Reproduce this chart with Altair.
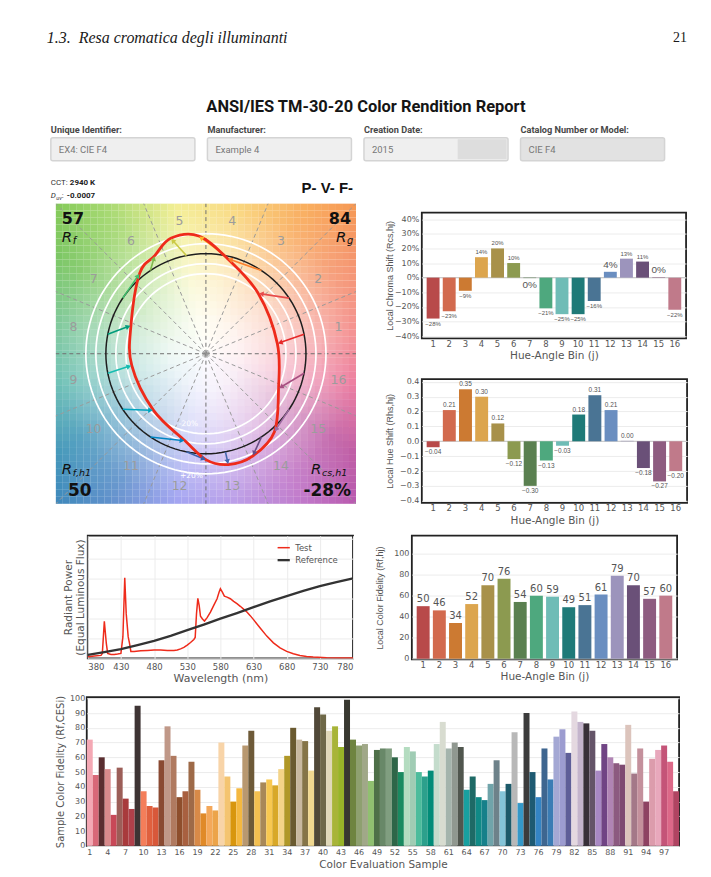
import altair as alt
import numpy as np
import pandas as pd

# ---------------------------------------------------------------- data
header_fields = ["Unique Identifier:", "Manufacturer:", "Creation Date:", "Catalog Number or Model:"]
header_values = ["EX4: CIE F4", "Example 4", "2015", "CIE F4"]

bins = list(range(1, 17))
chroma_shift = [-0.28, -0.23, -0.09, 0.14, 0.20, 0.10, -0.003, -0.21,
                -0.25, -0.25, -0.16, 0.04, 0.13, 0.11, 0.003, -0.22]
hue_shift = [-0.04, 0.21, 0.35, 0.30, 0.12, -0.12, -0.30, -0.13,
             -0.03, 0.18, 0.31, 0.21, 0.003, -0.18, -0.27, -0.20]
local_fidelity = [50, 46, 34, 52, 70, 76, 54, 60, 59, 49, 51, 61, 79, 70, 57, 60]

bin_bar_colors = ["#b84a4a", "#d26a4e", "#cc7a32", "#dca54e", "#a8914a", "#8c9a50",
                  "#5a8050", "#4ea87e", "#6fbcb6", "#1f7a78", "#4a7494", "#6a8ec0",
                  "#9c94bc", "#6a5078", "#8e5c80", "#c07a8a"]
bin_arrow_colors = ["#e62828", "#e74b4b", "#fb812e", "#ffb529", "#cbca46", "#7eb94c",
                    "#41c06d", "#009c7c", "#16bcb0", "#00a4bf", "#0085c3", "#3b62aa",
                    "#4568ae", "#6a4e85", "#9d69a1", "#a74f81"]
bg_hue_colors = ["#f27a74", "#f4895a", "#f8a44a", "#f8cf60", "#f0ea78", "#9cd45e",
                 "#6cc050", "#62bc84", "#4cb2a4", "#2f8cb2", "#4a82c4", "#8c8eee",
                 "#aa86e2", "#b866c2", "#b84a9a", "#e8608a"]

Rf, Rg, Rf_h1, Rcs_h1 = "57", "84", "50", "-28%"
cct_text, duv_text, pvf_text = "2940 K", "-0.0007", "P- V- F-"

spec_test_wl = [380, 390, 400, 402, 405, 408, 410, 415, 420, 425,
                430, 433, 435.8, 438, 441, 443, 445, 450, 460, 470,
                480, 490, 500, 510, 515, 520, 525, 530, 535, 540,
                542, 544, 546, 548, 550, 553, 556, 560, 565, 570,
                575, 578, 580, 583, 586, 590, 595, 600, 605, 610,
                615, 620, 625, 630, 640, 650, 660, 670, 680, 690,
                700, 710, 720, 740, 760, 780]
spec_test_pw = [0.08, 0.12, 0.15, 0.25, 1.87, 0.75, 0.25, 0.20, 0.20, 0.22,
                0.25, 1.08, 4.05, 2.25, 1.08, 0.75, 0.35, 0.35, 0.38, 0.40,
                0.42, 0.42, 0.40, 0.40, 0.42, 0.48, 0.55, 0.67, 0.80, 0.95,
                1.05, 2.25, 3.02, 2.67, 2.12, 1.98, 1.88, 2.05, 2.33, 2.67,
                3.00, 3.33, 3.50, 3.33, 3.13, 3.08, 3.00, 2.87, 2.75, 2.62,
                2.48, 2.33, 2.15, 1.95, 1.53, 1.12, 0.78, 0.53, 0.35, 0.23,
                0.15, 0.10, 0.07, 0.03, 0.02, 0.02]
spec_ref_wl = [380, 405, 430, 455, 480, 505, 530, 555, 580, 605, 630, 655, 680, 705, 730, 755, 780]
spec_ref_pw = [0.18, 0.32, 0.47, 0.67, 0.88, 1.13, 1.42, 1.70, 2.00, 2.28, 2.58, 2.87,
               3.13, 3.40, 3.63, 3.83, 4.03]

samples = list(range(1, 100))
sample_fidelity = [72, 48, 60, 52, 21, 53, 32, 25, 95, 37,
                   27, 26, 58, 81, 61, 33, 37, 57, 38, 22,
                   27, 24, 70, 47, 30, 39, 68, 78, 37, 43,
                   45, 41, 52, 61, 80, 72, 71, 51, 94, 89,
                   78, 81, 67, 99, 72, 68, 69, 44, 65, 66,
                   66, 60, 50, 67, 64, 50, 47, 51, 69, 84,
                   66, 70, 67, 38, 47, 33, 31, 42, 58, 37,
                   42, 77, 29, 90, 50, 33, 66, 45, 74, 79,
                   63, 91, 84, 83, 78, 51, 69, 60, 56, 55,
                   82, 49, 66, 30, 59, 65, 68, 57, 37]
sample_colors = ["#f4a8b4", "#d86878", "#5a2e30", "#d88a8c", "#c84858", "#9c5e58", "#a83a3c", "#b0404a", "#3e3434", "#f47e5a",
                 "#e0603e", "#d8583a", "#8a4a32", "#c09888", "#b07a60", "#8e4e2c", "#a86040", "#9e6a48", "#d88a48", "#e08a28",
                 "#f4a85a", "#eca44a", "#f8d4a8", "#f4c470", "#d8960e", "#f4b840", "#b89870", "#6e5a38", "#f4c050", "#a88858",
                 "#f8c850", "#d8a828", "#f4d488", "#b09828", "#6a5a30", "#c8b8a0", "#857448", "#f0d890", "#504838", "#6e6848",
                 "#e0d8b8", "#a8b438", "#98b428", "#383830", "#6e8440", "#8ea070", "#a0a888", "#90c070", "#4e7048", "#688868",
                 "#809e80", "#2e6648", "#1a8a60", "#b4dcc0", "#a0ccb4", "#4cbc9c", "#2ca08c", "#008c78", "#c4dccc", "#d8dcd0",
                 "#a4b4ac", "#909890", "#50564e", "#18a0a0", "#1e6a66", "#108a86", "#16808a", "#70a4aa", "#6e828a", "#84c4d8",
                 "#1c5a6a", "#b8b8b8", "#3498c8", "#3c3c3c", "#1e5a72", "#3484c4", "#3e6690", "#3a7cb4", "#a4a8d4", "#9c9cd0",
                 "#5e5e98", "#e4d8e0", "#c4b4cc", "#383038", "#645468", "#a888c4", "#704484", "#b084b4", "#8c5a80", "#7e4a72",
                 "#dcc4bc", "#a47888", "#c4909c", "#8e4262", "#dc9cac", "#e8a8bc", "#c45478", "#dc6888", "#b04462"]

# ---------------------------------------------------------------- style helpers
NARROW = "Roboto, sans-serif"
SANS = "DejaVu Sans"
SMALL = "Liberation Sans"
FRAME = alt.ViewBackground(stroke="#222222", strokeWidth=1.8)
NOFRAME = alt.ViewBackground(stroke="transparent")


def one():
    return pd.DataFrame({"z": [0]})


def label(s, x, y, **kw):
    kw.setdefault("align", "left")
    kw.setdefault("baseline", "middle")
    return alt.Chart(one()).mark_text(text=s, **kw).encode(x=alt.value(x), y=alt.value(y))


def spacer(w, h):
    return (alt.Chart(one()).mark_point(size=0.5, opacity=0)
            .encode(x=alt.value(w / 2), y=alt.value(h / 2))
            .properties(width=w, height=h, view=NOFRAME))


# ---------------------------------------------------------------- header
hdf = pd.DataFrame({"i": range(4), "label": header_fields, "value": header_values})
hx = alt.Scale(domain=[0, 4], range=[50, 678])
hbase = alt.Chart(hdf).transform_calculate(i2="datum.i + 0.92")
boxes = hbase.mark_rect(stroke="#d4d4d4", strokeWidth=1.5, cornerRadius=2).encode(
    x=alt.X("i:Q", scale=hx, axis=None), x2="i2:Q",
    y=alt.value(136), y2=alt.value(159),
    fill=alt.condition("datum.i == 3", alt.value("#e2e2e2"), alt.value("#efefef")))
box_dark = alt.Chart(one()).mark_rect(fill="#dddddd").encode(
    x=alt.value(458), x2=alt.value(507), y=alt.value(137.5), y2=alt.value(157.5))
flabels = hbase.mark_text(align="left", baseline="middle", font=NARROW, fontWeight="bold",
                          fontSize=9.2, color="#474747").encode(
    x=alt.X("i:Q", scale=hx, axis=None), y=alt.value(128), text="label:N")
fvalues = hbase.mark_text(align="left", baseline="middle", font=NARROW, fontSize=9.5,
                          color="#787878", dx=8).encode(
    x=alt.X("i:Q", scale=hx, axis=None), y=alt.value(148), text="value:N")

header = alt.layer(
    label("1.3.\u00a0\u00a0Resa cromatica degli illuminanti", 46, 36, font="Liberation Serif",
          fontStyle="italic", fontSize=16, color="#1a1a1a"),
    label("21", 688, 36, align="right", font="Liberation Serif", fontSize=14, color="#1a1a1a"),
    label("ANSI/IES TM-30-20 Color Rendition Report", 366, 105, align="center", font=NARROW,
          fontSize=16.5, fontWeight="bold", color="#151515"),
    boxes, box_dark, flabels, fvalues,
    label("CCT:", 50, 181, font=NARROW, fontSize=8, color="#333"),
    label(cct_text, 69, 181, font=NARROW, fontSize=8, fontWeight="bold", color="#222"),
    label("D", 50, 194, font=NARROW, fontSize=8, fontStyle="italic", color="#333"),
    label("uv", 55.5, 196.5, font=NARROW, fontSize=5.5, fontStyle="italic", color="#333"),
    label(":", 61, 194, font=NARROW, fontSize=8, color="#333"),
    label(duv_text, 66, 194, font=NARROW, fontSize=8, fontWeight="bold", color="#222"),
    label(pvf_text, 353, 186, align="right", font="Liberation Sans", fontSize=15,
          fontWeight="bold", color="#111"),
).properties(width=711, height=199, view=NOFRAME)

# ---------------------------------------------------------------- vector graphic
VS = 301
NCELL = 43
xs = alt.Scale(domain=[-1.5, 1.5], nice=False, zero=False)
ys = alt.Scale(domain=[-1.5, 1.5], nice=False, zero=False)

bg_dom = [-11.25] + [(b - 0.5) * 22.5 for b in bins] + [371.25]
bg_rng = [bg_hue_colors[-1]] + bg_hue_colors + [bg_hue_colors[0]]
edges = np.arange(NCELL) * (3.0 / NCELL) - 1.5
gx, gy = np.meshgrid(edges, edges)
cells = pd.DataFrame({"gx": gx.ravel(), "gy": gy.ravel()})
step = 3.0 / NCELL
background = alt.Chart(cells).transform_calculate(
    gx2=f"datum.gx + {step}", gy2=f"datum.gy + {step}",
    cx=f"datum.gx + {step / 2}", cy=f"datum.gy + {step / 2}",
).transform_calculate(
    ang="(atan2(datum.cy, datum.cx) * 180 / PI + 360) % 360",
    rad="sqrt(datum.cx * datum.cx + datum.cy * datum.cy)",
).mark_rect().encode(
    x=alt.X("gx:Q", scale=xs, axis=None), x2="gx2:Q",
    y=alt.Y("gy:Q", scale=ys, axis=None), y2="gy2:Q",
    fill=alt.Fill("ang:Q", scale=alt.Scale(domain=bg_dom, range=bg_rng, interpolate="rgb"), legend=None),
    opacity=alt.Opacity("rad:Q", scale=alt.Scale(domain=[0, 0.35, 0.7, 1.05, 1.5, 2.13],
                                                 range=[0.02, 0.1, 0.27, 0.5, 0.8, 1.0]),
                        legend=None),
)

spokes = alt.Chart(pd.DataFrame({"k": range(16)})).transform_calculate(
    x0="0", y0="0", x2="2.2 * cos(datum.k * PI / 8)", y2="2.2 * sin(datum.k * PI / 8)",
).mark_rule(clip=True, strokeDash=[4, 3], strokeWidth=1).encode(
    x=alt.X("x0:Q", scale=xs, axis=None), y=alt.Y("y0:Q", scale=ys, axis=None),
    x2="x2:Q", y2="y2:Q",
    color=alt.condition("datum.k % 4 == 0", alt.value("#707070"), alt.value("#9a9a9a")))

ring_grid = pd.DataFrame([(r, k) for r in [0.8, 0.9, 1.0, 1.1, 1.2] for k in range(121)],
                         columns=["r", "k"])
ring_base = alt.Chart(ring_grid).transform_calculate(
    x="datum.r * cos(datum.k * PI / 60)", y="datum.r * sin(datum.k * PI / 60)")
rings = ring_base.transform_filter("datum.r != 1").mark_line(color="white", strokeWidth=1.7).encode(
    x=alt.X("x:Q", scale=xs, axis=None), y=alt.Y("y:Q", scale=ys, axis=None),
    detail="r:N", order="k:Q")
ref_circle = ring_base.transform_filter("datum.r == 1").mark_line(color="#1e1e1e", strokeWidth=1.5).encode(
    x=alt.X("x:Q", scale=xs, axis=None), y=alt.Y("y:Q", scale=ys, axis=None),
    detail="r:N", order="k:Q")

gam = pd.DataFrame({"bin": bins, "cs": chroma_shift, "hs": hue_shift})
gbase = (alt.Chart(gam)
         .transform_calculate(th="(datum.bin - 0.5) * PI / 8")
         .transform_calculate(xr="cos(datum.th)", yr="sin(datum.th)",
                              xt="(1 + datum.cs) * cos(datum.th) - datum.hs * sin(datum.th)",
                              yt="(1 + datum.cs) * sin(datum.th) + datum.hs * cos(datum.th)",
                              xl="1.35 * cos(datum.th)", yl="1.35 * sin(datum.th)")
         .transform_calculate(alen="sqrt(pow(datum.xt - datum.xr, 2) + pow(datum.yt - datum.yr, 2))")
         .transform_calculate(
             xh="datum.xt - 0.03 * (datum.xt - datum.xr) / datum.alen",
             yh="datum.yt - 0.03 * (datum.yt - datum.yr) / datum.alen",
             ang="(atan2(datum.xt - datum.xr, datum.yt - datum.yr) * 180 / PI + 360) % 360"))

arrow_col = alt.Color("bin:O", scale=alt.Scale(domain=bins, range=bin_arrow_colors), legend=None)
bin_labels = gbase.mark_text(font=SANS, fontSize=12.5, color="#9c9c9c").encode(
    x=alt.X("xl:Q", scale=xs, axis=None), y=alt.Y("yl:Q", scale=ys, axis=None), text="bin:N")
shafts = gbase.mark_rule(strokeWidth=1.6).encode(
    x=alt.X("xr:Q", scale=xs, axis=None), y=alt.Y("yr:Q", scale=ys, axis=None),
    x2="xh:Q", y2="yh:Q", color=arrow_col)
test_curve = gbase.mark_line(interpolate="cardinal-closed", color="#ee2b1b", strokeWidth=2.8).encode(
    x=alt.X("xt:Q", scale=xs, axis=None), y=alt.Y("yt:Q", scale=ys, axis=None),
    order=alt.Order("bin:Q"))
heads = gbase.mark_point(shape="triangle-up", filled=True, size=30, opacity=1).encode(
    x=alt.X("xh:Q", scale=xs, axis=None), y=alt.Y("yh:Q", scale=ys, axis=None),
    angle=alt.Angle("ang:Q", scale=None), color=arrow_col)

corner = [
    label(Rf, 6, 15, font=SANS, fontSize=16, fontWeight="bold", color="#111"),
    label("R", 6, 33, font=SANS, fontSize=15, fontStyle="italic", color="#111"),
    label("f", 17, 37, font=SANS, fontSize=10, fontStyle="italic", color="#111"),
    label(Rg, 296, 15, align="right", font=SANS, fontSize=16, fontWeight="bold", color="#111"),
    label("R", 281, 33, font=SANS, fontSize=15, fontStyle="italic", color="#111"),
    label("g", 292, 37, font=SANS, fontSize=10, fontStyle="italic", color="#111"),
    label("R", 6, 266, font=SANS, fontSize=15, fontStyle="italic", color="#111"),
    label("f,h1", 17, 270, font=SANS, fontSize=9.5, fontStyle="italic", color="#111"),
    label(Rf_h1, 24, 288, align="center", font=SANS, fontSize=17, fontWeight="bold", color="#111"),
    label("R", 256, 266, font=SANS, fontSize=15, fontStyle="italic", color="#111"),
    label("cs,h1", 267, 270, font=SANS, fontSize=9.5, fontStyle="italic", color="#111"),
    label(Rcs_h1, 296, 288, align="right", font=SANS, fontSize=17, fontWeight="bold", color="#111"),
    label("-20%", 133, 221, align="center", font=SANS, fontSize=7.5, color="white"),
    label("+20%", 136, 273, align="center", font=SANS, fontSize=7.5, color="white"),
]

vector = alt.layer(background, spokes, rings, ref_circle, bin_labels, shafts, test_curve,
                   heads, *corner).properties(width=VS, height=VS, view=NOFRAME)

# ---------------------------------------------------------------- bin bar charts
EXT = 24


def xbin():
    return alt.X("bin:O", scale=alt.Scale(paddingInner=0.2, paddingOuter=0.3),
                 axis=alt.Axis(title="Hue-Angle Bin (j)", labelAngle=0, labelFontSize=8.5,
                               titleFontSize=10.5, labelPadding=1, titlePadding=3))


def yaxis(values, fmt, title):
    return alt.Axis(values=values, format=fmt, title=title, grid=True, labelFontSize=8,
                    titleFont=SMALL, titleFontSize=9, minExtent=EXT, maxExtent=EXT,
                    titlePadding=3, labelPadding=3)


shift_ticks = [round(-0.4 + 0.1 * k, 1) for k in range(9)]

cdf = pd.DataFrame({"bin": bins, "v": chroma_shift, "c": bin_bar_colors})
c_scale = alt.Scale(domain=[-0.415, 0.445], nice=False, zero=False)
c_axis = yaxis(shift_ticks, ".0%", "Local Chroma Shift (Rcs,hj)")
yc = alt.Y("v:Q", scale=c_scale, axis=c_axis)
cb = alt.Chart(cdf)
chroma = alt.layer(
    alt.Chart(one()).mark_rule(color="#c4c4c4", strokeWidth=1).encode(
        y=alt.Y(datum=0, scale=c_scale, axis=c_axis)),
    cb.mark_bar().encode(x=xbin(), y=yc, y2=alt.datum(0), color=alt.Color("c:N", scale=None)),
    cb.transform_filter("datum.v >= 0").mark_text(baseline="bottom", dy=-2, font=SMALL, color="#555").encode(
        x=xbin(), y=yc, text=alt.Text("v:Q", format=".0%"),
        size=alt.condition("abs(datum.v) < 0.05", alt.value(10), alt.value(6))),
    cb.transform_filter("datum.v < 0").mark_text(baseline="top", dy=2, font=SMALL, color="#555").encode(
        x=xbin(), y=yc, text=alt.Text("v:Q", format=".0%"),
        size=alt.condition("abs(datum.v) < 0.05", alt.value(10), alt.value(6))),
).properties(width=265, height=126, view=FRAME)

hdf2 = pd.DataFrame({"bin": bins, "v": hue_shift, "c": bin_bar_colors})
h_scale = alt.Scale(domain=[-0.414, 0.418], nice=False, zero=False)
h_axis = yaxis(shift_ticks, ".1f", "Local Hue Shift (Rhs,hj)")
yh = alt.Y("v:Q", scale=h_scale, axis=h_axis)
hb = alt.Chart(hdf2)
hue = alt.layer(
    alt.Chart(one()).mark_rule(color="#c4c4c4", strokeWidth=1).encode(
        y=alt.Y(datum=0, scale=h_scale, axis=h_axis)),
    hb.mark_bar().encode(x=xbin(), y=yh, y2=alt.datum(0), color=alt.Color("c:N", scale=None)),
    hb.transform_filter("datum.v >= 0").mark_text(baseline="bottom", dy=-2, font=SMALL, fontSize=6.5,
                                                  color="#555").encode(
        x=xbin(), y=yh, text=alt.Text("v:Q", format=".2f")),
    hb.transform_filter("datum.v < 0").mark_text(baseline="top", dy=2, font=SMALL, fontSize=6.5,
                                                 color="#555").encode(
        x=xbin(), y=yh, text=alt.Text("v:Q", format=".2f")),
).properties(width=266, height=124, view=FRAME)

fdf = pd.DataFrame({"bin": bins, "v": local_fidelity, "c": bin_bar_colors})
yf = alt.Y("v:Q", scale=alt.Scale(domain=[-0.6, 117], nice=False, zero=False),
           axis=yaxis([0, 20, 40, 60, 80, 100], "d", "Local Color Fidelity (Rf,hj)"))
fb = alt.Chart(fdf)
fidelity = alt.layer(
    fb.mark_bar().encode(x=xbin(), y=yf, y2=alt.datum(0), color=alt.Color("c:N", scale=None)),
    fb.mark_text(baseline="bottom", dy=-2, font=SANS, fontSize=10, color="#555").encode(
        x=xbin(), y=yf, text="v:Q"),
).properties(width=266, height=124, view=FRAME)

# ---------------------------------------------------------------- spectrum
spec_df = pd.concat([
    pd.DataFrame({"wl": spec_test_wl, "p": spec_test_pw, "s": "Test"}),
    pd.DataFrame({"wl": spec_ref_wl, "p": spec_ref_pw, "s": "Reference"}),
])
spectrum = alt.Chart(spec_df).mark_line(clip=True).encode(
    x=alt.X("wl:Q", scale=alt.Scale(domain=[380, 780], nice=False, zero=False),
            axis=alt.Axis(values=list(range(380, 781, 50)), title="Wavelength (nm)", grid=True,
                          labelFontSize=8.5, titleFontSize=11, labelPadding=4, titlePadding=2)),
    y=alt.Y("p:Q", scale=alt.Scale(domain=[0, 6.17], nice=False, zero=False),
            axis=alt.Axis(values=[0, 1, 2, 3, 4, 5, 6], labels=False, grid=True,
                          title=["Radiant Power", "(Equal Luminous Flux)"], titleFontSize=10.5,
                          titleLineHeight=12.5, titlePadding=2, minExtent=0, maxExtent=0)),
    stroke=alt.Stroke("s:N", scale=alt.Scale(domain=["Test", "Reference"], range=["#ee2b1b", "#333333"]),
                      legend=alt.Legend(title=None, orient="none", legendX=276, legendY=540,
                                        symbolType="stroke", symbolStrokeWidth=2, symbolSize=150,
                                        labelFontSize=8.5, labelColor="#555", rowPadding=0,
                                        labelFont=SANS)),
    strokeWidth=alt.StrokeWidth("s:N", scale=alt.Scale(domain=["Test", "Reference"], range=[1.5, 2.3]),
                                legend=None),
).properties(width=266, height=123, view=FRAME)

# ---------------------------------------------------------------- sample fidelity
sdf = pd.DataFrame({"s": samples, "v": sample_fidelity, "c": sample_colors})
bottom = alt.Chart(sdf).mark_bar().encode(
    x=alt.X("s:O", scale=alt.Scale(paddingInner=0, paddingOuter=0),
            axis=alt.Axis(values=list(range(1, 100, 3)), labelAngle=0, title="Color Evaluation Sample",
                          labelFontSize=8, titleFontSize=10.5, labelPadding=3, titlePadding=3)),
    y=alt.Y("v:Q", scale=alt.Scale(domain=[0, 100.7], nice=False, zero=False),
            axis=alt.Axis(values=list(range(0, 101, 10)), title="Sample Color Fidelity (Rf,CESi)",
                          grid=True, labelFontSize=8, titleFontSize=10, minExtent=19, maxExtent=19,
                          titlePadding=2, labelPadding=2)),
    color=alt.Color("c:N", scale=None),
).properties(width=594, height=149, view=FRAME)

# ---------------------------------------------------------------- layout
rowB = alt.hconcat(spacer(53, 1), vector, spacer(26, 1),
                   alt.vconcat(spacer(1, 7), chroma, spacer(1, 12), hue, spacing=0),
                   spacing=0)
rowC = alt.hconcat(spacer(60, 1), spectrum, spacer(19, 1), fidelity, spacing=0)
rowD = alt.hconcat(spacer(53, 1), bottom, spacing=0)

chart = alt.vconcat(header, rowB, spacer(1, 6), rowC, spacer(1, 6), rowD, spacing=0).properties(
    padding={"left": 0, "top": 0, "right": 0, "bottom": 0}, background="white"
).configure_view(stroke="transparent").configure_axis(
    labelFont=SANS, titleFont=SANS, labelColor="#555555", titleColor="#555555",
    titleFontWeight="normal", domain=False, ticks=False, gridColor="#ececec"
)

chart.save("out.html", embed_options={"renderer": "svg", "actions": False})
